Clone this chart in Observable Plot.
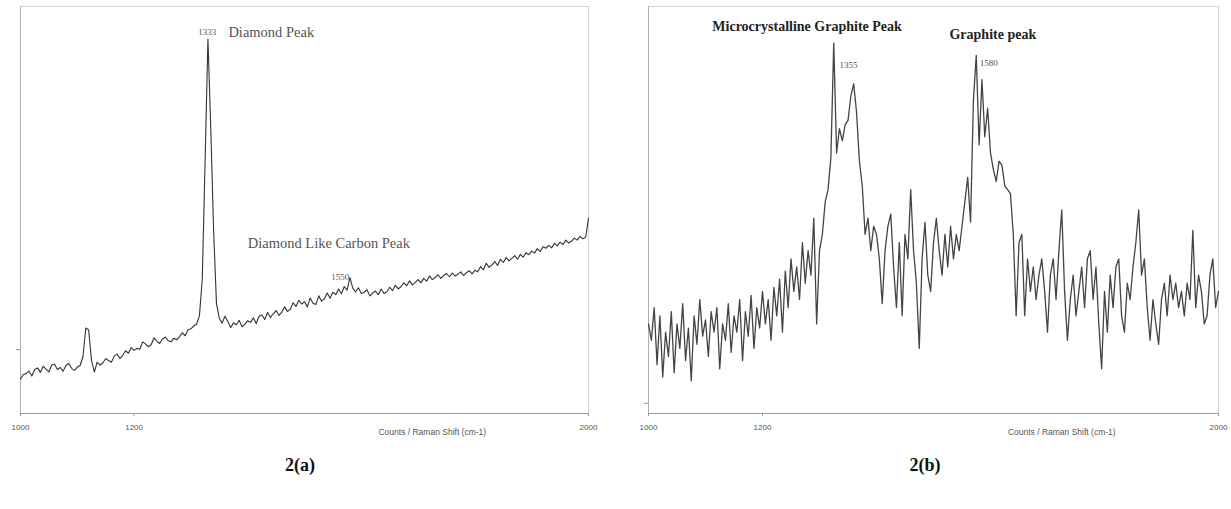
<!DOCTYPE html>
<html><head><meta charset="utf-8">
<script src="https://cdn.jsdelivr.net/npm/d3@7"></script>
<script src="https://cdn.jsdelivr.net/npm/@observablehq/plot@0.6"></script>
<style>
body{margin:0;background:#fff;}
#wrap{position:relative;width:1231px;height:509px;overflow:hidden;background:#fff;}
.panel{position:absolute;top:0;}
.cap{position:absolute;top:455px;font:bold 18px "Liberation Serif",serif;color:#111;transform:translateX(-50%);}
</style></head><body>
<div id="wrap">
  <div id="a" class="panel" style="left:0"></div>
  <div id="b" class="panel" style="left:630px"></div>
  <div class="cap" style="left:300px">2(a)</div>
  <div class="cap" style="left:925px">2(b)</div>
</div>
<script>
// Raman shift sampling (cm-1)
const shiftStart = 1000;
const shiftStep = 5;
const xTicks = [1000, 1200, 2000];
const axisTitle = "Counts / Raman Shift (cm-1)";

// Panel 2(a): diamond film spectrum (relative counts)
const countsA = [
  8.5,9.6,9.8,10.4,9.2,10.8,11.2,10.1,11.6,10.9,10.2,11.9,12.1,10.8,11.3,10.4,11.8,12.3,11.1,10.6,11.4,
  11.8,14,21,20.5,13,10.2,12.6,11.9,12.4,13.5,13,12.6,14.1,14.6,13.5,14.3,15.4,14.8,16.2,15.5,
  16,15.8,17.6,17.1,16.4,16.9,18.6,17.8,17.2,18.3,18.8,17.9,17.6,18.5,18.1,18.9,19.8,19.1,20.6,20.8,
  21.5,22,24,33,62,92,70,45,27,23.4,22.2,23.9,22.6,21.1,22.3,21.8,22.9,21.3,21.9,22.8,
  22.4,23.5,22.1,23.9,24.2,23.1,24.8,23.6,24.5,25.3,24.1,24.9,26.2,25.1,25.6,27.2,26.3,27.8,26.9,27.5,
  26.2,28.4,27.1,26.8,28.9,27.6,28.2,29.6,28.3,29.8,29.2,30.6,29.4,31.2,30.3,33.4,30.8,29.9,30.9,29.5,
  29.8,30.4,28.9,29.6,30.1,29.2,30.6,29.5,29.9,31,30.2,31.5,30.6,31.2,32.1,31.4,32.6,31.6,32.2,32.9,
  32.1,33.2,32.5,33.8,32.9,33.4,34.1,33.2,33.9,34.4,33.6,34.5,33.8,34.2,34.8,33.9,34.6,35.1,34.3,35.2,
  34.8,36.1,35.3,36.9,35.9,36.5,37.3,36.4,37.9,37.1,38.3,37.5,38.1,38.8,37.9,39.1,38.4,39.5,39,39.9,
  39.4,40.5,39.8,41,40.6,41.3,40.7,41.8,41.2,42.1,41.5,42.6,41.9,42.3,43.1,42.6,43.5,42.9,43.3,48
];

// Panel 2(b): graphitic film spectrum (relative counts)
const countsB = [
  22,18,26,12,24,9,20,14,25,10,22,16,27,13,21,8,24,17,28,19,23,
  14,25,20,26,11,22,18,27,15,24,20,28,13,25,19,29,16,26,21,30,
  22,28,18,31,24,33,20,35,26,38,30,36,28,42,32,40,34,48,22,40,
  44,52,55,63,91,64,70,67,71,72,78,81,74,62,56,44,48,40,46,44,
  38,27,40,46,49,36,26,42,24,44,38,55,40,32,16,38,47,34,30,42,
  48,40,34,44,36,46,38,44,40,46,52,58,47,77,88,66,82,68,75,64,
  60,57,62,61,56,55,54,44,24,42,44,24,38,30,36,28,34,38,30,20,
  34,38,28,40,50,30,18,28,34,24,30,36,26,38,40,28,36,22,11,30,
  20,34,26,36,38,24,20,32,28,36,42,50,34,38,26,18,28,22,17,28,
  32,24,34,28,32,26,30,24,32,28,45,26,34,30,22,24,34,38,26,30
];

// Annotations: peak positions (small numbers) and peak names
const peakNumbersA = [
  {x: 1329, y: 93.6, text: "1333"},
  {x: 1563, y: 33.4, text: "1550"}
];
const peakNamesA = [
  {x: 1366, y: 93.6, text: "Diamond Peak"},
  {x: 1400, y: 41.8, text: "Diamond Like Carbon Peak"}
];
const peakNumbersB = [
  {x: 1335, y: 85.5, text: "1355"},
  {x: 1581, y: 86.2, text: "1580"}
];
const peakNamesB = [
  {x: 1112, y: 95.1, text: "Microcrystalline Graphite Peak"},
  {x: 1528, y: 93.1, text: "Graphite peak"}
];
const yTickA = [15.7];
const yTickB = [2.5];

const serif = "'Liberation Serif', 'Times New Roman', serif";

function toSeries(counts) {
  return counts.map((c, i) => ({shift: shiftStart + i * shiftStep, counts: c}));
}

function panel({counts, width, ml, mr, yTick, stroke, sw, extra}) {
  const data = toSeries(counts);
  return Plot.plot({
    width, height: 440,
    marginTop: 6, marginBottom: 27, marginLeft: ml, marginRight: mr,
    x: {domain: [1000, 2000]},
    y: {domain: [0, 100]},
    style: {background: "#fff", overflow: "visible", fontFamily: "'Liberation Sans', Arial, sans-serif"},
    marks: [
      Plot.frame({stroke: "#d4d4d4"}),
      Plot.ruleY([0], {stroke: "#9a9a9a", strokeWidth: 1.2}),
      Plot.ruleX([1000], {stroke: "#b0b0b0"}),
      Plot.axisX({ticks: xTicks, tickSize: 3, tickPadding: 8, fontSize: 8, fill: "#555", stroke: "#999", tickFormat: d => String(d)}),
      Plot.axisY({ticks: yTick, tickSize: 4, tickFormat: () => "", stroke: "#999"}),
      Plot.line(data, {x: "shift", y: "counts", stroke, strokeWidth: sw}),
      Plot.text([axisTitle], {x: () => 1725, y: () => 0, text: d => d, dy: 19, fontSize: 8.5, fill: "#555", textAnchor: "middle"}),
      ...extra
    ]
  });
}

const marksA = [
  Plot.text(peakNumbersA, {x: "x", y: "y", text: "text", fontSize: 9, fill: "#555", textAnchor: "middle", fontFamily: serif}),
  Plot.text(peakNamesA, {x: "x", y: "y", text: "text", fontSize: 14.5, fill: "#555", textAnchor: "start", fontFamily: serif})
];
const marksB = [
  Plot.text(peakNumbersB, {x: "x", y: "y", text: "text", fontSize: 9, fill: "#555", textAnchor: "start", fontFamily: serif}),
  Plot.text(peakNamesB, {x: "x", y: "y", text: "text", fontSize: 14, fill: "#222", fontWeight: "bold", textAnchor: "start", fontFamily: serif})
];

document.getElementById("a").append(panel({counts: countsA, width: 600, ml: 20, mr: 12, yTick: yTickA, stroke: "#333", sw: 1.1, extra: marksA}));
document.getElementById("b").append(panel({counts: countsB, width: 601, ml: 18, mr: 13, yTick: yTickB, stroke: "#444", sw: 1.3, extra: marksB}));
</script>
</body></html>
